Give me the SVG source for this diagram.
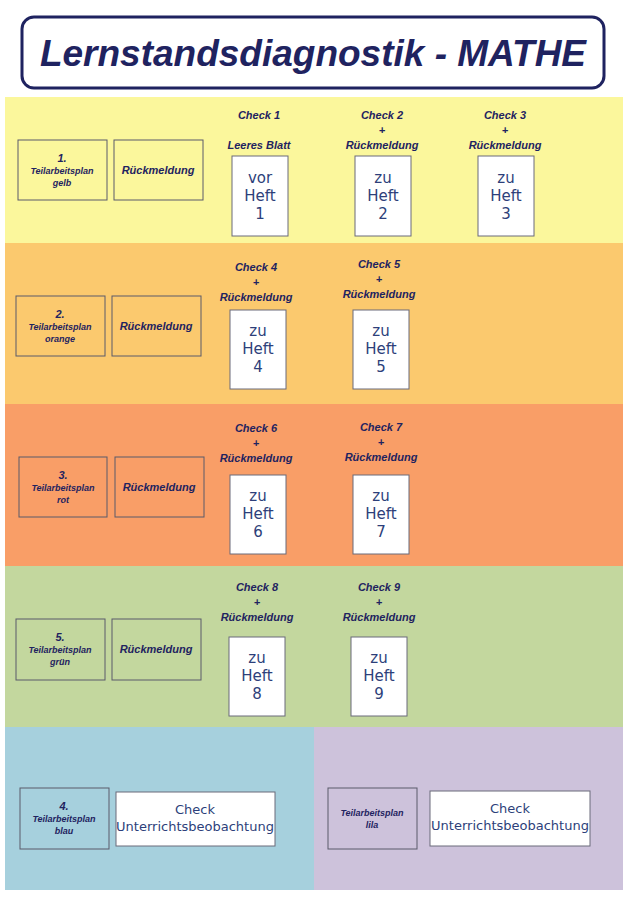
<svg xmlns="http://www.w3.org/2000/svg" width="630" height="906" viewBox="0 0 630 906">
<style>
.lbl{font-family:"Liberation Sans",Arial,sans-serif;font-weight:bold;font-style:italic;fill:#1f2360;text-anchor:middle}
.s{font-size:11px}.xs{font-size:9px}.m{font-size:12px}
.box{fill:none;stroke:#5a5a6a;stroke-width:1}
.card{fill:#fff;stroke:#6a6a7a;stroke-width:1}
.hw{font-family:"DejaVu Sans",sans-serif;font-size:15px;fill:#2d3f7a;text-anchor:middle}
</style>
<rect width="630" height="906" fill="#fff"/>
<g id="title">
<rect x="22" y="17" width="582" height="71" rx="12" fill="#fff" stroke="#1f2360" stroke-width="3"/>
<text x="313" y="66" class="lbl" style="font-size:37px">Lernstandsdiagnostik - MATHE</text>
</g>
<g id="bands">
<rect x="5" y="97" width="618" height="146" fill="#fbf79c"/>
<rect x="5" y="243" width="618" height="161" fill="#fbc96e"/>
<rect x="5" y="404" width="618" height="162" fill="#f99e67"/>
<rect x="5" y="566" width="618" height="161" fill="#c3d79e"/>
<rect x="5" y="727" width="309" height="163" fill="#a6d0dd"/>
<rect x="314" y="727" width="309" height="163" fill="#cdc2db"/>
</g>
<g id="row1">
<rect class="box" x="18" y="140" width="89" height="60"/>
<text class="lbl s" x="62" y="162">1.</text><text class="lbl xs" x="62" y="174">Teilarbeitsplan</text><text class="lbl xs" x="62" y="186">gelb</text>
<rect class="box" x="114" y="140" width="89" height="60"/><text class="lbl s" x="158" y="174">Rückmeldung</text>
<text class="lbl s" x="259" y="119">Check 1</text><text class="lbl s" x="259" y="149">Leeres Blatt</text>
<rect class="card" x="232" y="156" width="56" height="80"/><text class="hw" x="260" y="183">vor</text><text class="hw" x="260" y="201">Heft</text><text class="hw" x="260" y="219">1</text>
<text class="lbl s" x="382" y="119">Check 2</text><text class="lbl s" x="382" y="134">+</text><text class="lbl s" x="382" y="149">Rückmeldung</text>
<rect class="card" x="355" y="156" width="56" height="80"/><text class="hw" x="383" y="183">zu</text><text class="hw" x="383" y="201">Heft</text><text class="hw" x="383" y="219">2</text>
<text class="lbl s" x="505" y="119">Check 3</text><text class="lbl s" x="505" y="134">+</text><text class="lbl s" x="505" y="149">Rückmeldung</text>
<rect class="card" x="478" y="156" width="56" height="80"/><text class="hw" x="506" y="183">zu</text><text class="hw" x="506" y="201">Heft</text><text class="hw" x="506" y="219">3</text>
</g>
<g id="row2">
<rect class="box" x="16" y="296" width="89" height="60"/>
<text class="lbl s" x="60" y="318">2.</text><text class="lbl xs" x="60" y="330">Teilarbeitsplan</text><text class="lbl xs" x="60" y="342">orange</text>
<rect class="box" x="112" y="296" width="89" height="60"/><text class="lbl s" x="156" y="330">Rückmeldung</text>
<text class="lbl s" x="256" y="271">Check 4</text><text class="lbl s" x="256" y="286">+</text><text class="lbl s" x="256" y="301">Rückmeldung</text>
<rect class="card" x="230" y="310" width="56" height="79"/><text class="hw" x="258" y="336">zu</text><text class="hw" x="258" y="354">Heft</text><text class="hw" x="258" y="372">4</text>
<text class="lbl s" x="379" y="268">Check 5</text><text class="lbl s" x="379" y="283">+</text><text class="lbl s" x="379" y="298">Rückmeldung</text>
<rect class="card" x="353" y="310" width="56" height="79"/><text class="hw" x="381" y="336">zu</text><text class="hw" x="381" y="354">Heft</text><text class="hw" x="381" y="372">5</text>
</g>
<g id="row3">
<rect class="box" x="19" y="457" width="88" height="60"/>
<text class="lbl s" x="63" y="479">3.</text><text class="lbl xs" x="63" y="491">Teilarbeitsplan</text><text class="lbl xs" x="63" y="503">rot</text>
<rect class="box" x="115" y="457" width="89" height="60"/><text class="lbl s" x="159" y="491">Rückmeldung</text>
<text class="lbl s" x="256" y="432">Check 6</text><text class="lbl s" x="256" y="447">+</text><text class="lbl s" x="256" y="462">Rückmeldung</text>
<rect class="card" x="230" y="475" width="56" height="79"/><text class="hw" x="258" y="501">zu</text><text class="hw" x="258" y="519">Heft</text><text class="hw" x="258" y="537">6</text>
<text class="lbl s" x="381" y="431">Check 7</text><text class="lbl s" x="381" y="446">+</text><text class="lbl s" x="381" y="461">Rückmeldung</text>
<rect class="card" x="353" y="475" width="56" height="79"/><text class="hw" x="381" y="501">zu</text><text class="hw" x="381" y="519">Heft</text><text class="hw" x="381" y="537">7</text>
</g>
<g id="row4">
<rect class="box" x="16" y="619" width="89" height="61"/>
<text class="lbl s" x="60" y="641">5.</text><text class="lbl xs" x="60" y="653">Teilarbeitsplan</text><text class="lbl xs" x="60" y="665">grün</text>
<rect class="box" x="112" y="619" width="89" height="61"/><text class="lbl s" x="156" y="653">Rückmeldung</text>
<text class="lbl s" x="257" y="591">Check 8</text><text class="lbl s" x="257" y="606">+</text><text class="lbl s" x="257" y="621">Rückmeldung</text>
<rect class="card" x="229" y="637" width="56" height="79"/><text class="hw" x="257" y="663">zu</text><text class="hw" x="257" y="681">Heft</text><text class="hw" x="257" y="699">8</text>
<text class="lbl s" x="379" y="591">Check 9</text><text class="lbl s" x="379" y="606">+</text><text class="lbl s" x="379" y="621">Rückmeldung</text>
<rect class="card" x="351" y="637" width="56" height="79"/><text class="hw" x="379" y="663">zu</text><text class="hw" x="379" y="681">Heft</text><text class="hw" x="379" y="699">9</text>
</g>
<g id="row5">
<rect class="box" x="20" y="788" width="89" height="61"/>
<text class="lbl s" x="64" y="810">4.</text><text class="lbl xs" x="64" y="822">Teilarbeitsplan</text><text class="lbl xs" x="64" y="834">blau</text>
<rect class="card" x="116" y="792" width="159" height="54"/><text class="hw" x="195" y="814" style="font-size:13px">Check</text><text class="hw" x="195" y="831" style="font-size:13px">Unterrichtsbeobachtung</text>
<rect class="box" x="328" y="788" width="89" height="61"/>
<text class="lbl xs" x="372" y="816">Teilarbeitsplan</text><text class="lbl xs" x="372" y="828">lila</text>
<rect class="card" x="430" y="791" width="160" height="55"/><text class="hw" x="510" y="813" style="font-size:13px">Check</text><text class="hw" x="510" y="830" style="font-size:13px">Unterrichtsbeobachtung</text>
</g>
<g id="connectors"/>
</svg>
